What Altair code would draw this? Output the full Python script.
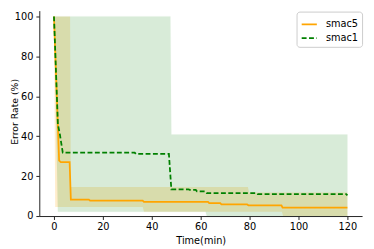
import altair as alt
import pandas as pd

# ---- data ----
# smac5 mean curve
t5 = [0, 2.1, 2.8, 6.4, 6.9, 14.3, 14.8, 36.3, 36.8, 63.0, 63.5, 68.0, 68.5, 79.0, 79.5, 93.0, 93.5, 120]
v5 = [100, 27.8, 27.0, 27.0, 8.2, 8.2, 7.7, 7.7, 7.1, 7.1, 6.5, 6.5, 5.8, 5.8, 5.4, 5.4, 4.2, 4.2]
# smac1 mean curve
t1 = [0, 1.6, 2.4, 3.6, 33.0, 33.5, 47.0, 48.0, 55.0, 55.5, 58.0, 58.5, 62.0, 62.5, 82.7, 83.2, 119.5, 120]
v1 = [100, 46.0, 41.0, 31.8, 31.8, 31.1, 31.1, 13.4, 13.4, 13.1, 13.1, 12.3, 12.3, 11.5, 11.5, 11.0, 11.0, 10.4]
# smac5 band
bt5 = [0, 0.5, 6.6, 6.9, 36.3, 36.8, 79.3, 79.8, 93.2, 93.7, 120]
blo5 = [100, 4.5, 4.5, 4.5, 4.5, 2.2, 2.2, 2.2, 2.2, 0.0, 0.0]
bhi5 = [100, 100, 100, 14.5, 14.5, 14.5, 14.5, 11.8, 11.8, 11.8, 11.8]
# smac1 band
bt1 = [0, 1.6, 47.6, 48.0, 62.0, 62.5, 120]
blo1 = [100, 2.2, 2.2, 2.2, 2.2, 0.0, 0.0]
bhi1 = [100, 100, 100, 40.8, 40.8, 40.8, 40.8]

series = ["smac5", "smac1"]
colors = ["orange", "green"]

lines = pd.DataFrame(
    {"t": t5 + t1, "v": v5 + v1, "series": ["smac5"] * len(t5) + ["smac1"] * len(t1)}
)
band5 = pd.DataFrame({"t": bt5, "lo": blo5, "hi": bhi5})
band1 = pd.DataFrame({"t": bt1, "lo": blo1, "hi": bhi1})

xs = alt.Scale(domain=[-6, 126], nice=False, zero=False)
ys = alt.Scale(domain=[0, 102.9], nice=False, zero=False)

xax = alt.Axis(values=[0, 20, 40, 60, 80, 100, 120], title="Time(min)", grid=False,
               titleY=25, titleBaseline="middle", labelPadding=2)
yax = alt.Axis(values=[0, 20, 40, 60, 80, 100], title="Error Rate (%)", grid=False,
               titleX=-25, titleY=103, titleAngle=-90, titleAlign="center",
               titleBaseline="middle", labelPadding=3, titleFontSize=9.5)

a5 = alt.Chart(band5).mark_area(color="orange", opacity=0.2, interpolate="linear").encode(
    x=alt.X("t:Q", scale=xs, axis=xax),
    y=alt.Y("lo:Q", scale=ys, axis=yax),
    y2="hi:Q",
)
a1 = alt.Chart(band1).mark_area(color="green", opacity=0.15, interpolate="linear",
                                stroke="green", strokeOpacity=0.12, strokeWidth=1).encode(
    x=alt.X("t:Q", scale=xs),
    y=alt.Y("lo:Q", scale=ys),
    y2="hi:Q",
)
leg = alt.Legend(title=None, orient="none", legendX=263, legendY=1)
ln = alt.Chart(lines).mark_line(strokeWidth=1.8).encode(
    x=alt.X("t:Q", scale=xs),
    y=alt.Y("v:Q", scale=ys),
    color=alt.Color("series:N", scale=alt.Scale(domain=series, range=colors), legend=leg),
    strokeDash=alt.StrokeDash("series:N",
                              scale=alt.Scale(domain=series, range=[[1, 0], [5, 2.5]]),
                              legend=leg),
    detail="series:N",
)

chart = alt.layer(a5, a1, ln).properties(
    width=330, height=210,
    autosize=alt.AutoSizeParams(type="none"),
    padding={"left": 32, "top": 0, "right": 4, "bottom": 31},
).configure_view(stroke=None).configure_axis(
    domainColor="#222", tickColor="#222", domainWidth=1, tickWidth=1, tickSize=3.5,
    labelFont="DejaVu Sans", titleFont="DejaVu Sans", labelFontSize=10, titleFontSize=10,
    labelColor="black", titleColor="black", titleFontWeight="normal",
).configure_legend(
    labelFont="DejaVu Sans", labelFontSize=10, labelColor="black",
    symbolType="stroke", symbolSize=240, symbolStrokeWidth=1.8,
    strokeColor="#cccccc", fillColor="white", cornerRadius=3, padding=4,
    labelOffset=8, rowPadding=0,
)

chart.save("out.html", embed_options={"renderer": "svg", "actions": False})
